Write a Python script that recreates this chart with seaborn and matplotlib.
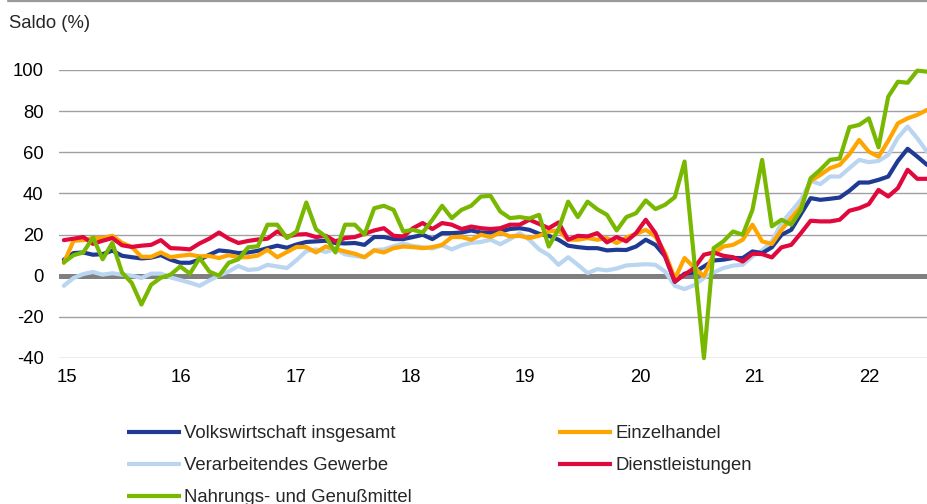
import matplotlib

matplotlib.use("Agg")
import matplotlib.pyplot as plt
from matplotlib.lines import Line2D
import numpy as np
import pandas as pd
import seaborn as sns

# Monthly balances, Jan 2015 .. Jun 2022
year_labels = ["15", "16", "17", "18", "19", "20", "21", "22"]

volkswirtschaft = [
    7.8, 11, 11.3, 10.2, 10.5, 12.2, 9.7, 9, 8.4, 8.8, 10, 7.8,
    6.3, 6.3, 7.8, 10.2, 12.3, 11.8, 11, 11.3, 12.1, 13.4, 14.6, 13.6,
    15.2, 16.4, 16.7, 17, 15.9, 15.7, 15.9, 15, 18.8, 18.8, 17.8, 17.8,
    18.8, 19.9, 17.8, 20.7, 20.7, 21, 22, 21, 21, 21.5, 22.7, 23.1,
    22.3, 20.4, 19.4, 17.5, 14.6, 13.9, 13.4, 13.4, 12.3, 12.6, 12.5, 14.2,
    17.5, 15, 9.4, -3, 1, 1.6, 4.5, 7.4, 7.8, 8.6, 8.6, 11.8,
    11, 13.8, 19.9, 22.3, 30, 37.7, 36.9, 37.4, 38, 41.3, 45.3, 45.3,
    46.6, 48.2, 55.8, 61.7, 57.9, 53.9,
]
einzelhandel = [
    6.2, 17, 17.3, 18.3, 18.3, 19.4, 16, 14, 9.2, 9.2, 11.3, 9,
    9.7, 10.2, 9.4, 9.6, 8.6, 10, 9, 9, 9.8, 12.6, 9, 11.5,
    14, 13.9, 11.3, 14.2, 13, 11.8, 10.7, 9, 12.3, 11.3, 13.4, 14.2,
    13.9, 13.4, 13.9, 15, 18.8, 18.8, 17.5, 19.9, 18.8, 21, 19.1, 19.4,
    18.3, 19.4, 21.5, 22, 17.5, 17.5, 18.3, 17.5, 18.3, 15.9, 18.5, 20.4,
    22.3, 19.1, 11, -1.5, 8.6, 4, -0.3, 10.7, 14.2, 15, 17.5, 24.8,
    16.7, 15.4, 22.3, 28, 33.6, 46.1, 49, 52.3, 53.9, 59.1, 66, 60.3,
    57.9, 65.5, 74.1, 76.5, 78.2, 80.6,
]
verarbeitendes = [
    -4.9, -1.1, 0.8, 1.8, 0.5, 1.2, 0.5, 0, -1.1, 1, 1, -0.8,
    -2.1, -3.4, -4.9, -2.3, 0.1, 2.1, 4.7, 2.8, 3.2, 5.3, 4.5, 3.7,
    7.6, 12, 12.8, 11.5, 13, 10.4, 9.6, 9, 12.5, 12.8, 14.4, 15.7,
    14.4, 13.9, 13.2, 14.8, 12.8, 14.8, 16, 16.4, 17.5, 15.3, 17.8, 20.7,
    17.5, 12.8, 10, 5.3, 9, 5.3, 1.3, 3.2, 2.6, 3.5, 5, 5.3,
    5.6, 5.3, 2.0, -4.9, -6.5, -4.6, -1.1, 1.6, 3.7, 4.9, 5.3, 9.4,
    12.3, 16.7, 25.6, 31.2, 36.9, 46.1, 44.5, 48.2, 48.2, 52.3, 56.3, 55.2,
    55.8, 58.7, 67.1, 72.5, 66.8, 60.3,
]
dienstleistungen = [
    17.3, 18, 18.8, 15.5, 17, 18.3, 14.8, 14, 14.6, 15, 17.3, 13.4,
    13.2, 12.8, 15.7, 18, 21, 18, 15.9, 16.9, 17.6, 18, 21.5, 19,
    20, 20.2, 18.8, 19.4, 16.7, 18.3, 18.8, 20.4, 22, 23.1, 19.4, 19.1,
    23.1, 25.6, 22.7, 25.6, 24.8, 22.7, 23.9, 23.1, 22.7, 23.1, 24.8, 24.8,
    27.2, 25.2, 23.1, 25.9, 17.5, 19.4, 19.1, 20.7, 16.2, 18.8, 16.7, 20.7,
    27.2, 20.7, 9.4, -2.8, 0.5, 3.7, 10.2, 11.3, 9.7, 9, 6.9, 10.7,
    10.5, 8.9, 13.8, 15, 20.7, 26.7, 26.4, 26.4, 27.2, 31.6, 32.8, 34.8,
    41.7, 38.5, 42.6, 51.5, 47.1, 47.1,
]
nahrungsmittel = [
    6.5, 10, 11.3, 18.6, 8, 16, 1.5, -3.5, -14, -4.4, -1, 0.5,
    4.5, 1, 8.6, 2, 0, 6.3, 8, 13.8, 14.3, 24.8, 24.8, 18.3,
    21.5, 35.6, 22.6, 19, 11.3, 24.8, 24.8, 20, 32.8, 34, 32, 21.5,
    22.3, 21, 27.2, 34, 28, 32, 34, 38.5, 38.8, 31.2, 28, 28.5,
    27.8, 29.6, 14.2, 22.6, 36, 28.5, 36, 32.3, 29.6, 22, 28.5, 30.4,
    36.6, 32.4, 34.5, 38.2, 55.5, 7.5, -40, 13.4, 16.7, 21.5, 19.9, 32,
    56.3, 24, 27.2, 24.8, 32, 47.4, 51.5, 56.3, 57, 72.2, 73.3, 76.5,
    62.4, 87, 94.3, 93.8, 99.7, 99.2,
]

series = {
    "Volkswirtschaft insgesamt": (volkswirtschaft, "#1f3a93"),
    "Verarbeitendes Gewerbe": (verarbeitendes, "#b9d5f0"),
    "Nahrungs- und Genußmittel": (nahrungsmittel, "#78b800"),
    "Einzelhandel": (einzelhandel, "#ffa500"),
    "Dienstleistungen": (dienstleistungen, "#e0083c"),
}
draw_order = [
    "Verarbeitendes Gewerbe", "Volkswirtschaft insgesamt", "Einzelhandel",
    "Dienstleistungen", "Nahrungs- und Genußmittel",
]

df = pd.DataFrame({name: vals for name, (vals, _) in series.items()})
df["monat"] = np.arange(len(df))
long = df.melt(id_vars="monat", var_name="reihe", value_name="saldo")

sns.set_theme(style="white")
plt.rcParams["font.family"] = ["Liberation Sans", "DejaVu Sans"]
plt.rcParams["axes.unicode_minus"] = False
FS = 13.3
LW = 3.0

fig = plt.figure(figsize=(9.27, 5.04), dpi=100)
ax = fig.add_axes([59 / 927, 146 / 504, 868 / 927, 288 / 504])

ax.yaxis.grid(True, color="#a0a0a0", linewidth=1.0, zorder=0)
ax.axhline(0, color="#7f7f7f", linewidth=3.6, zorder=1)

sns.lineplot(
    data=long, x="monat", y="saldo", hue="reihe", hue_order=draw_order,
    palette={k: c for k, (_, c) in series.items()},
    linewidth=LW, legend=False, ax=ax, zorder=3,
)
for ln in ax.lines[1:]:
    ln.set_clip_on(False)

ax.set_xlim(-0.5, 89)
ax.set_ylim(-40, 100)
ax.set_yticks(np.arange(-40, 101, 20))
ax.set_xticks(np.arange(8) * 11.82 + 0.3)
ax.set_xticklabels(year_labels)
ax.set_xlabel("")
ax.set_ylabel("")
sns.despine(ax=ax, left=True, bottom=True)
ax.tick_params(axis="both", length=0, labelsize=FS, colors="black")
ax.tick_params(axis="y", pad=11)
ax.tick_params(axis="x", pad=8)

fig.text(9 / 927, 1 - 23 / 504, "Saldo (%)", fontsize=FS, va="center", ha="left")
fig.add_artist(Line2D([8 / 927, 1], [1 - 1 / 504] * 2, color="#9a9a9a",
                      linewidth=1.6, transform=fig.transFigure))

handles = [
    Line2D([], [], color=series[n][1], linewidth=LW, solid_capstyle="butt")
    for n in series
]
fig.legend(
    handles, list(series), loc="upper left",
    bbox_to_anchor=(127 / 927, 1 - 425 / 504), ncol=2, frameon=False,
    fontsize=FS, borderpad=0, borderaxespad=0, handlelength=2.9,
    handletextpad=0.2, labelspacing=0.82, columnspacing=7.9,
)

fig.savefig("out.png", dpi=100)
